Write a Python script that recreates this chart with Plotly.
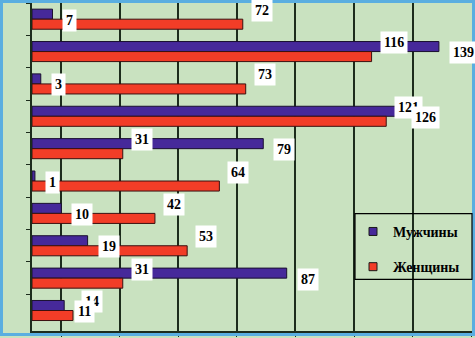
import plotly.graph_objects as go

categories = ["Группа 1", "Группа 2", "Группа 3", "Группа 4", "Группа 5",
              "Группа 6", "Группа 7", "Группа 8", "Группа 9", "Группа 10"]
men = [7, 139, 3, 126, 79, 1, 10, 19, 87, 11]
women = [72, 116, 73, 121, 31, 64, 42, 53, 31, 14]
series_names = ["Мужчины", "Женщины"]
grid_vals = [10, 30, 50, 70, 90, 110, 130, 150]

men_color = "#46299a"
women_color = "#f23d27"
bg = "#c9e2c0"
frame = "#5aaee0"
serif = "Liberation Serif"

fig = go.Figure()
fig.add_trace(go.Bar(y=categories, x=men, orientation="h", name=series_names[0],
                     marker=dict(color=men_color, line=dict(color="#1a1030", width=1)),
                     showlegend=False))
fig.add_trace(go.Bar(y=categories, x=women, orientation="h", name=series_names[1],
                     marker=dict(color=women_color, line=dict(color="#3a1010", width=1)),
                     showlegend=False))
# legend entries with small square swatches
for name, col, grp in [(series_names[0], men_color, "m"), (series_names[1], women_color, "w")]:
    fig.add_trace(go.Scatter(x=[None], y=[None], mode="markers", name=name, legendgroup=grp,
                             marker=dict(symbol="square", size=8, color=col,
                                         line=dict(color="#1a1a1a", width=1))))

ann = []
for c, v in zip(categories, women):
    ann.append(dict(x=v, y=c, xref="x", yref="y", text="<b>%d</b>" % v, showarrow=False,
                    xanchor="left", yanchor="middle", xshift=8, yshift=9,
                    bgcolor="white", borderpad=3,
                    font=dict(family=serif, size=14, color="black")))
for c, v in zip(categories, men):
    ann.append(dict(x=v, y=c, xref="x", yref="y", text="<b>%d</b>" % v, showarrow=False,
                    xanchor="left", yanchor="middle", xshift=10, yshift=-1,
                    bgcolor="white", borderpad=3,
                    font=dict(family=serif, size=14, color="black")))

fig.update_layout(
    width=475, height=338,
    margin=dict(l=32, r=3, t=3, b=5),
    paper_bgcolor=bg, plot_bgcolor=bg,
    barmode="group", bargap=0.38, bargroupgap=0,
    showlegend=True,
    legend=dict(x=(353 - 32)/440, y=0.351, xanchor="left", yanchor="top",
                bgcolor="rgba(0,0,0,0)", borderwidth=0, itemwidth=30,
                traceorder="grouped", tracegroupgap=14,
                font=dict(family=serif, size=14, color="black", weight="bold")),
    annotations=ann,
    xaxis=dict(range=[0, 150.3], tickvals=grid_vals, showticklabels=False,
               showgrid=True, gridcolor="#1c2c1c", gridwidth=1.5, zeroline=False,
               showline=True, linecolor="#1c2c1c", linewidth=1.5,
               ticks="outside", ticklen=4, tickcolor="#1c2c1c"),
    yaxis=dict(autorange="reversed", showticklabels=False, showgrid=False,
               showline=True, linecolor="#1c2c1c", linewidth=1.5,
               ticks="outside", ticklen=4, tickcolor="#1c2c1c", tickson="boundaries"),
    shapes=[
        dict(type="rect", xref="paper", yref="paper",
             x0=-32/440 + 1.5/440, x1=1 + 3/440 - 1.5/440,
             y0=-5/330 + 1.5/330, y1=1 + 3/330 - 1.5/330,
             line=dict(color=frame, width=3), layer="above"),
        dict(type="rect", xref="paper", yref="paper",
             x0=(355 - 32)/440, x1=(472 - 32)/440,
             y0=(333 - 281)/330, y1=(333 - 215)/330,
             line=dict(color="black", width=1.2), layer="above"),
    ],
)

fig.write_html("out.html", config={"displayModeBar": False},
               post_script="document.body.style.margin='0';")
